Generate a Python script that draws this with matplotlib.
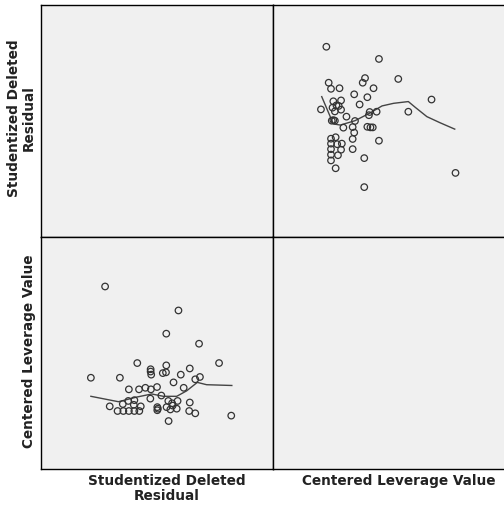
import matplotlib
matplotlib.use("Agg")
import matplotlib.pyplot as plt

# ---- data ----
residual = [-1.79, 0.74, 0.32, 1.45, 2.14, -0.68, -2.28, -1.28, -0.22, -0.22,
            -0.20, 0.32, 0.20, 0.31, 1.13, 0.82, 1.48, 1.32, 0.57, 0.92,
            -0.97, -0.62, -0.40, -0.21, 0.00, -0.23, 0.15, -1.63, -1.36, -1.16,
            -0.97, -0.78, -0.61, -1.18, -0.99, -0.78, -0.80, -0.56, 0.01, 0.03,
            0.01, 0.39, 0.71, 0.52, 0.54, 0.33, 0.46, 0.68, 1.13, 1.11,
            1.32, 0.40, 2.56]
leverage = [0.186, 0.155, 0.125, 0.112, 0.087, 0.087, 0.068, 0.068, 0.079, 0.076,
            0.072, 0.084, 0.074, 0.075, 0.080, 0.072, 0.069, 0.066, 0.062, 0.055,
            0.053, 0.053, 0.055, 0.053, 0.056, 0.041, 0.045, 0.031, 0.025, 0.025,
            0.025, 0.025, 0.025, 0.034, 0.038, 0.039, 0.033, 0.031, 0.030, 0.028,
            0.026, 0.038, 0.038, 0.035, 0.032, 0.030, 0.027, 0.028, 0.036, 0.025,
            0.022, 0.012, 0.019]

# fit line: leverage as a function of residual (bottom-left panel)
fit_bl_res = [-2.28, -1.33, -0.70, -0.18, 0.22, 0.68, 1.02, 1.39, 1.71, 2.58]
fit_bl_lev = [0.044, 0.037, 0.043, 0.047, 0.044, 0.044, 0.051, 0.062, 0.059, 0.058]
# fit line: residual as a function of leverage (top-right panel)
fit_tr_lev = [0.013, 0.028, 0.037, 0.056, 0.075, 0.091, 0.106, 0.125, 0.134, 0.149, 0.166, 0.185]
fit_tr_res = [0.84, -0.10, -0.14, 0.01, 0.27, 0.52, 0.61, 0.67, 0.47, 0.15, -0.06, -0.28]

var_names = ["Studentized Deleted\nResidual", "Centered Leverage Value"]
res_lim = (-4, 4)
lev_lim = (-0.05, 0.25)

# ---- figure ----
W, H = 504, 508
fig = plt.figure(figsize=(W / 100, H / 100), dpi=100)
fig.patch.set_facecolor("white")

x0, x1, x2 = 41, 273, 505
y0, y1, y2 = 5, 237, 469

def add_ax(left, top, right, bottom):
    ax = fig.add_axes([left / W, 1 - bottom / H, (right - left) / W, (bottom - top) / H])
    ax.set_facecolor("#f0f0f0")
    ax.set_xticks([])
    ax.set_yticks([])
    for s in ax.spines.values():
        s.set_color("black")
        s.set_linewidth(1.0)
    return ax

ax_tl = add_ax(x0, y0, x1, y1)
ax_tr = add_ax(x1, y0, x2, y1)
ax_bl = add_ax(x0, y1, x1, y2)
ax_br = add_ax(x1, y1, x2, y2)

mk = dict(s=22, facecolors="none", edgecolors="#333333", linewidths=0.9, zorder=3)
ln = dict(color="#444444", lw=1.0, zorder=2)

# top-right: x = leverage, y = residual
ax_tr.scatter(leverage, residual, **mk)
ax_tr.plot(fit_tr_lev, fit_tr_res, **ln)
ax_tr.set_xlim(lev_lim[0], lev_lim[0] + (lev_lim[1] - lev_lim[0]) * (x2 - x1) / (x1 - x0))
ax_tr.set_ylim(res_lim)

# bottom-left: x = residual, y = leverage
ax_bl.scatter(residual, leverage, **mk)
ax_bl.plot(fit_bl_res, fit_bl_lev, **ln)
ax_bl.set_xlim(res_lim)
ax_bl.set_ylim(lev_lim)

for ax in (ax_tl, ax_br):
    ax.set_xlim(0, 1)
    ax.set_ylim(0, 1)

font = dict(family=["DejaVu Sans"], fontweight="bold", fontsize=9.8,
            color="#222222", linespacing=1.1)

# x labels (top aligned)
fig.text(166.5 / W, 1 - 474 / H, var_names[0], ha="center", va="top", **font)
fig.text(398.5 / W, 1 - 474 / H, var_names[1], ha="center", va="top", **font)
# y labels (right aligned toward the axis)
fig.text(36 / W, 1 - 118 / H, var_names[0], ha="right", va="center", rotation=90,
         multialignment="center", **font)
fig.text(36 / W, 1 - 351 / H, var_names[1], ha="right", va="center", rotation=90, **font)

fig.savefig("out.png", dpi=100, facecolor="white")
